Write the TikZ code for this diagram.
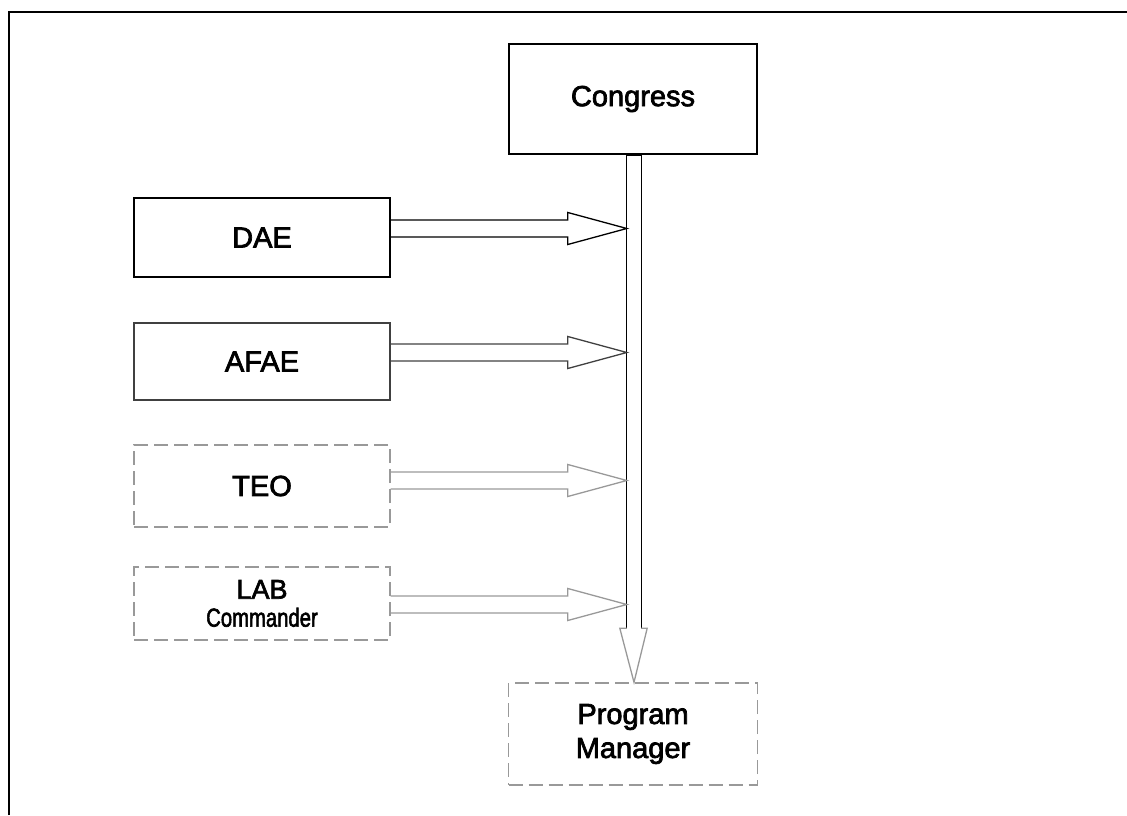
\documentclass[tikz,border=0pt]{standalone}
\usepackage{fontspec}
\setmainfont{Liberation Sans}[FakeBold=2.5]
\usepackage{graphicx}
\usepackage{tikz}
\usetikzlibrary{calc}

\begin{document}
\begin{tikzpicture}[
  x=1pt,y=1pt,
  box/.style={rectangle,draw,line width=1.4pt,inner sep=0pt,align=center,
    minimum width=256pt,font=\fontsize{29}{34}\selectfont},
  faint/.style={draw=black!40,dash pattern=on 14pt off 6pt},
  blk/.style={line width=1.3pt,line join=miter}
]
\useasboundingbox (0,0) rectangle (1127,815);
\draw[line width=2.5pt] (9,0) -- (9,803) -- (1127,803);

\node[box,minimum width=248pt,minimum height=110pt] (cong) at (633,716) {Congress};
\node[box,minimum height=79pt] (dae) at (262,577.5) {DAE};
\node[box,draw=black!75,minimum height=77pt] (afae) at (262,453.5) {AFAE};
\node[box,faint,minimum height=82pt] (teo) at (262,329) {TEO};
\node[box,faint,minimum height=73pt,font=\fontsize{27}{28}\selectfont] (lab) at (262,211.5)
  {LAB\\\fontsize{26}{28}\selectfont\scalebox{0.78}[1]{Commander}};
\node[box,faint,minimum width=249pt,minimum height=102pt] (pm) at (633,81) {Program\\Manager};

% vertical bar from Congress down to the Program Manager
\node[inner sep=0pt,minimum width=14pt,minimum height=472pt] (bar) at (634,423) {};
\draw[blk] (bar.south west) -- (bar.north west) -- (bar.north east) -- (bar.south east);
\draw[blk,draw=black!40] (bar.south west) -- ++(-7,0) -- (bar.south |- pm.north)
  -- ($(bar.south east)+(6,0)$) -- (bar.south east);

% block arrows into the bar
\foreach \src/\dy/\col in {dae/9/black,afae/9/black!75,teo/5.5/black!40,lab/-1/black!40}
  \draw[blk,draw=\col] let \p1=($(\src.east)+(0,\dy)$), \p2=(bar.west) in
    (\x1,\y1+8.5pt) -- (\x2-59pt,\y1+8.5pt) -- (\x2-59pt,\y1+16pt) -- (\x2,\y1)
    -- (\x2-59pt,\y1-16pt) -- (\x2-59pt,\y1-8.5pt) -- (\x1,\y1-8.5pt);
\end{tikzpicture}
\end{document}
